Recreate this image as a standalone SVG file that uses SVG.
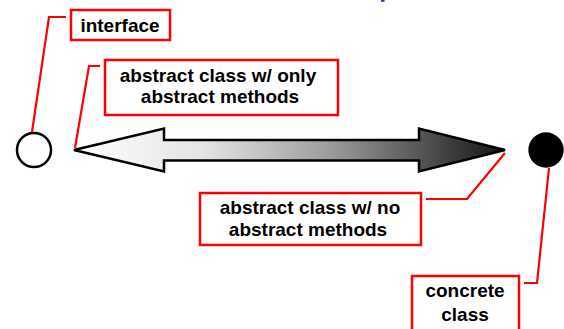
<svg xmlns="http://www.w3.org/2000/svg" width="564" height="329" viewBox="0 0 564 329">
  <defs>
    <linearGradient id="shade" x1="73" y1="0" x2="507" y2="0" gradientUnits="userSpaceOnUse">
      <stop offset="0" stop-color="#ffffff"/>
      <stop offset="0.3" stop-color="#e4e4e4"/>
      <stop offset="0.6" stop-color="#9a9a9a"/>
      <stop offset="1" stop-color="#111111"/>
    </linearGradient>
  </defs>
  <style>
    .box { fill: #ffffff; stroke: #ff0000; stroke-width: 2.5; }
    .lead { fill: none; stroke: #ff0000; stroke-width: 2.2; }
    .lbl { font-family: "Liberation Sans", Arial, sans-serif; font-weight: bold; font-size: 19px; fill: #000000; text-anchor: middle; }
  </style>
  <rect width="564" height="329" fill="#ffffff"/>
  <!-- clipped glyph tail at top edge -->
  <rect x="381" y="0" width="3.5" height="1.8" fill="#3535a8"/>

  <g id="connectors">
    <path class="lead" d="M66,17 L49,17 L32,132"/>
    <path class="lead" d="M100,66 L89,66 L75,148"/>
    <path class="lead" d="M426,199 L467,199 L505,153"/>
    <path class="lead" d="M524,283 L537,283 L549,168"/>
  </g>

  <g id="spectrum">
    <path d="M74,150 L164,128.5 L164,140 L419,140 L419,128.5 L505,150 L419,171.5 L419,160.5 L164,160.5 L164,171.5 Z"
          fill="url(#shade)" stroke="#000000" stroke-width="2.5" stroke-linejoin="miter"/>
  </g>

  <g id="interface-end">
    <circle cx="34" cy="150" r="17" fill="#ffffff" stroke="#000000" stroke-width="2.5"/>
  </g>

  <g id="concrete-end">
    <circle cx="546" cy="150" r="17.7" fill="#000000"/>
  </g>

  <g id="interface">
    <rect class="box" x="71" y="10" width="99" height="30"/>
    <text class="lbl" x="120" y="31.5">interface</text>
  </g>

  <g id="abstract-only">
    <rect class="box" x="105" y="60" width="233" height="55"/>
    <text class="lbl" x="218" y="81.5">abstract class w/ only</text>
    <text class="lbl" x="220" y="103.3">abstract methods</text>
  </g>

  <g id="abstract-none">
    <rect class="box" x="200" y="193" width="221" height="52"/>
    <text class="lbl" x="310" y="214.3">abstract class w/ no</text>
    <text class="lbl" x="308" y="235.7">abstract methods</text>
  </g>

  <g id="concrete">
    <rect class="box" x="412" y="276" width="107" height="60"/>
    <text class="lbl" x="465" y="297.3">concrete</text>
    <text class="lbl" x="465" y="321">class</text>
  </g>
</svg>
